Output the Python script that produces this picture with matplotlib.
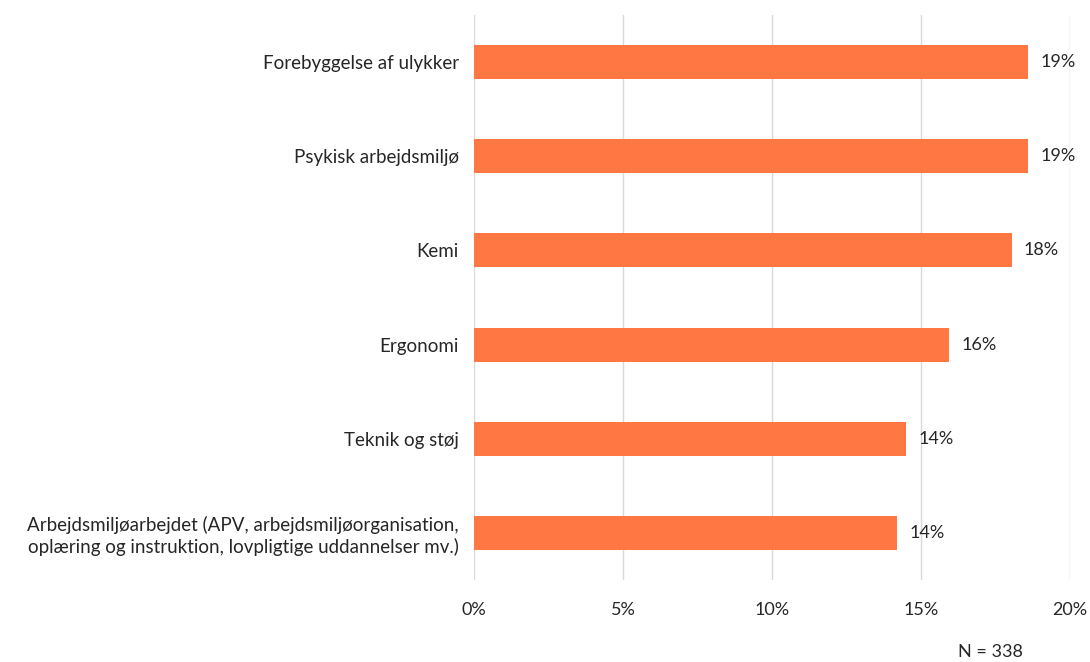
import matplotlib.pyplot as plt
from matplotlib.ticker import FuncFormatter

kategorier = [
    "Forebyggelse af ulykker",
    "Psykisk arbejdsmiljø",
    "Kemi",
    "Ergonomi",
    "Teknik og støj",
    "Arbejdsmiljøarbejdet (APV, arbejdsmiljøorganisation,\noplæring og instruktion, lovpligtige uddannelser mv.)",
]
andele = [18.6, 18.6, 18.05, 15.95, 14.5, 14.2]
etiketter = ["19%", "19%", "18%", "16%", "14%", "14%"]
n_tekst = "N = 338"

plt.rcParams["font.family"] = ["Lato", "DejaVu Sans"]

fig = plt.figure(figsize=(10.9, 6.62), dpi=100)
ax = fig.add_axes([474 / 1090, 1 - 580 / 662, (1070 - 474) / 1090, (580 - 15) / 662])

y = list(range(len(kategorier)))
ax.barh(y, andele, height=0.36, color="#FF7843", zorder=3)
for yi, v, lab in zip(y, andele, etiketter):
    ax.text(v + 0.4, yi, lab, va="center", ha="left", fontsize=13, color="#262626")

ax.set_xlim(0, 20)
ax.set_ylim(len(kategorier) - 0.5, -0.5)
ax.set_xticks([0, 5, 10, 15, 20])
ax.xaxis.set_major_formatter(FuncFormatter(lambda v, p: f"{v:.0f}%"))
ax.set_yticks(y)
ax.set_yticklabels(kategorier, fontsize=13.5, color="#262626", linespacing=1.25)
ax.tick_params(axis="y", length=0, pad=11)
ax.tick_params(axis="x", length=0, pad=16, labelsize=13, labelcolor="#262626")
ax.grid(axis="x", color="#D9D9D9", linewidth=1, zorder=0)
for s in ax.spines.values():
    s.set_visible(False)

fig.text(990 / 1090, 1 - 652 / 662, n_tekst, ha="center", va="center",
         fontsize=13, color="#262626")

fig.savefig("out.png", dpi=100)
